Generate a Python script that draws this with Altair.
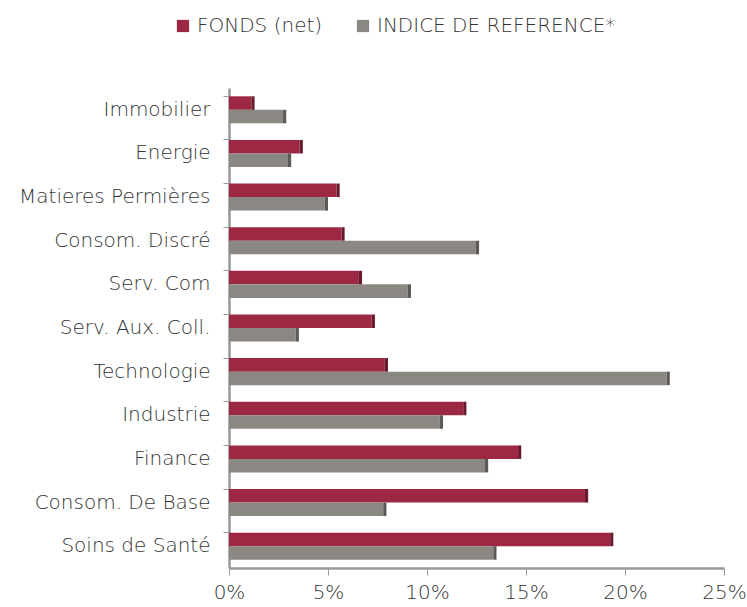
import altair as alt
import pandas as pd

categories = ["Immobilier", "Energie", "Matieres Permières", "Consom. Discré",
              "Serv. Com", "Serv. Aux. Coll.", "Technologie", "Industrie",
              "Finance", "Consom. De Base", "Soins de Santé"]
fonds = [1.13, 3.57, 5.43, 5.68, 6.56, 7.21, 7.87, 11.83, 14.6, 17.98, 19.25]
indice = [2.73, 2.98, 4.84, 12.47, 9.03, 3.37, 22.1, 10.65, 12.93, 7.79, 13.35]
series = ["FONDS (net)", "INDICE DE REFERENCE*"]

rows = []
for c, f, i in zip(categories, fonds, indice):
    rows.append({"cat": c, "serie": series[0], "val": f / 100})
    rows.append({"cat": c, "serie": series[1], "val": i / 100})
df = pd.DataFrame(rows)

FONT = "DejaVu Sans"
FS = 20
red, grey = "#9C2843", "#8B8783"
red_d, grey_d = "#6A1A2D", "#5C5956"

y = alt.Y("cat:N", sort=categories, title=None,
          scale=alt.Scale(paddingInner=0.38, paddingOuter=0.19),
          axis=alt.Axis(bandPosition=0, labelFont=FONT, labelFontSize=FS,
                        labelFontWeight=300,
                        labelColor="#333333", tickColor="#999999", tickSize=6,
                        domainColor="#999999", domainWidth=2.5, labelPadding=13,
                        labelLimit=300))
yoff = alt.YOffset("serie:N", sort=series, scale=alt.Scale(paddingInner=0))

base = alt.Chart(df)

bars = base.mark_bar(stroke=None).encode(
    x=alt.X("val:Q", title=None,
            scale=alt.Scale(domain=[0, 0.25], nice=False),
            axis=alt.Axis(format="%", values=[0, 0.05, 0.1, 0.15, 0.2, 0.25],
                          grid=False, labelFont=FONT, labelFontSize=FS,
                          labelFontWeight=300,
                          labelColor="#333333", tickColor="#999999", tickSize=7,
                          domainColor="#999999", domainWidth=2.5, labelPadding=7,
                          labelFlush=False)),
    y=y,
    yOffset=yoff,
    color=alt.Color("serie:N", sort=series,
                    scale=alt.Scale(domain=series, range=[red, grey]),
                    legend=alt.Legend(title=None, orient="none", direction="horizontal",
                                      legendX=-56, legendY=-72, symbolType="square",
                                      symbolSize=150, symbolStrokeWidth=0,
                                      labelFont=FONT, labelFontSize=FS,
                                      labelFontWeight=300, labelLimit=400,
                                      labelColor="#333333", columnPadding=30,
                                      labelOffset=4)),
)

sides = base.transform_calculate(
    vend="datum.val + 0.0016"
).mark_bar(stroke=None).encode(
    x="val:Q",
    x2="vend:Q",
    y=alt.Y("cat:N", sort=categories),
    yOffset=yoff,
    color=alt.Color("serie:N", sort=series,
                    scale=alt.Scale(domain=series, range=[red_d, grey_d]),
                    legend=None),
)

chart = alt.layer(bars, sides).resolve_scale(color="independent").properties(
    width=495, height=480, autosize="none",
    padding={"left": 229, "top": 88, "right": 23, "bottom": 39},
).configure_view(stroke=None)

chart.save("out.html", embed_options={"renderer": "svg", "actions": False})
